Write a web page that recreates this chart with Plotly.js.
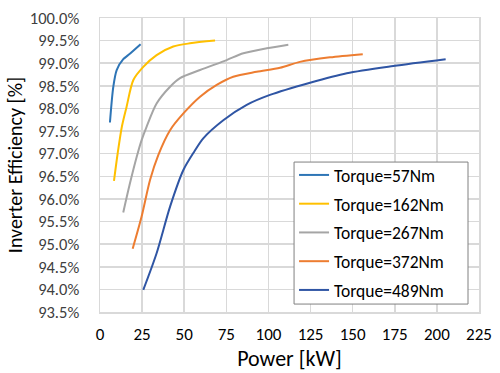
<!DOCTYPE html>
<html>
<head>
<meta charset="utf-8">
<script src="https://cdn.plot.ly/plotly-3.0.1.min.js"></script>
<style>html,body{margin:0;padding:0;background:#fff;}#chart{width:500px;height:373px;}</style>
</head>
<body>
<div id="chart"></div>
<script>
const seriesNames = ["Torque=57Nm", "Torque=162Nm", "Torque=267Nm", "Torque=372Nm", "Torque=489Nm"];
const seriesColors = ["#2E75B6", "#FFC000", "#A5A5A5", "#ED7D31", "#2F55A4"];

const power57 = [5.9, 7.9, 9.9, 13.8, 16.8, 24.1];
const eff57   = [97.69, 98.48, 98.85, 99.09, 99.18, 99.42];

const power162 = [8.3, 10.5, 13.0, 15.8, 19.8, 25.7, 33.6, 43.5, 53.4, 68.3];
const eff162   = [96.40, 97.01, 97.60, 98.04, 98.63, 98.92, 99.18, 99.37, 99.44, 99.50];

const power267 = [13.8, 17.5, 21.8, 24.7, 27.7, 33.6, 41.6, 47.5, 59.4, 75.2, 85.1, 99.0, 111.8];
const eff267   = [95.70, 96.30, 96.93, 97.30, 97.60, 98.11, 98.48, 98.67, 98.85, 99.07, 99.22, 99.33, 99.41];

const power372 = [19.4, 24.7, 29.7, 34.6, 41.6, 49.5, 59.4, 69.3, 79.1, 93.0, 106.9, 118.7, 136.5, 156.0];
const eff372   = [94.90, 95.61, 96.42, 96.97, 97.52, 97.89, 98.26, 98.52, 98.70, 98.81, 98.90, 99.03, 99.13, 99.20];

const power489 = [25.7, 33.6, 41.6, 49.5, 56.0, 61.3, 73.2, 87.1, 100.9, 124.7, 146.5, 174.1, 205.2];
const eff489   = [93.99, 94.80, 95.83, 96.64, 97.05, 97.34, 97.74, 98.08, 98.30, 98.57, 98.78, 98.94, 99.09];

const xs = [power57, power162, power267, power372, power489];
const ys = [eff57, eff162, eff267, eff372, eff489];

const traces = seriesNames.map((n, i) => ({
  type: "scatter", mode: "lines", name: n,
  x: xs[i], y: ys[i], legendgroup: "g" + i,
  line: {color: seriesColors[i], width: 2, shape: "spline", smoothing: 0.8}
}));

const font = "Carlito, Calibri, Lato, 'Liberation Sans', sans-serif";
const layout = {
  width: 500, height: 373,
  margin: {l: 100, r: 21, t: 18, b: 61},
  paper_bgcolor: "#fff", plot_bgcolor: "#fff",
  font: {family: font, color: "#404040", size: 13},
  showlegend: true,
  shapes: [{
    type: "rect", xref: "paper", yref: "paper", layer: "above",
    x0: 0.512, x1: 0.971, y0: 0.027, y1: 0.51,
    fillcolor: "#fff", line: {color: "#808080", width: 1}
  }],
  legend: {
    x: 0.512, y: 0.527, xanchor: "left", yanchor: "top",
    bgcolor: "rgba(0,0,0,0)", borderwidth: 0,
    font: {size: 17.5, color: "#000"}, tracegroupgap: 3
  },
  xaxis: {
    range: [0, 225], dtick: 25, tick0: 0,
    showgrid: true, gridcolor: "#D9D9D9", gridwidth: 1.5,
    zeroline: false, showline: true, linecolor: "#D9D9D9", linewidth: 1.5, mirror: true,
    ticks: "outside", ticklen: 6, tickcolor: "rgba(0,0,0,0)", tickfont: {size: 17, color: "#000"},
    title: {text: "Power [kW]", font: {size: 22, color: "#000"}, standoff: 4}
  },
  yaxis: {
    range: [93.5, 100], dtick: 0.5, tick0: 93.5,
    tickformat: ".1f", ticksuffix: "%",
    showgrid: true, gridcolor: "#D9D9D9", gridwidth: 1.5,
    zeroline: false, showline: true, linecolor: "#D9D9D9", linewidth: 1.5, mirror: true,
    ticks: "outside", ticklen: 16, tickcolor: "rgba(0,0,0,0)", tickfont: {size: 16.5, color: "#404040"},
    title: {text: "Inverter Efficiency [%]", font: {size: 20, color: "#000"}, standoff: 2}
  }
};

Plotly.newPlot("chart", traces, layout, {displayModeBar: false, staticPlot: true});
</script>
</body>
</html>
